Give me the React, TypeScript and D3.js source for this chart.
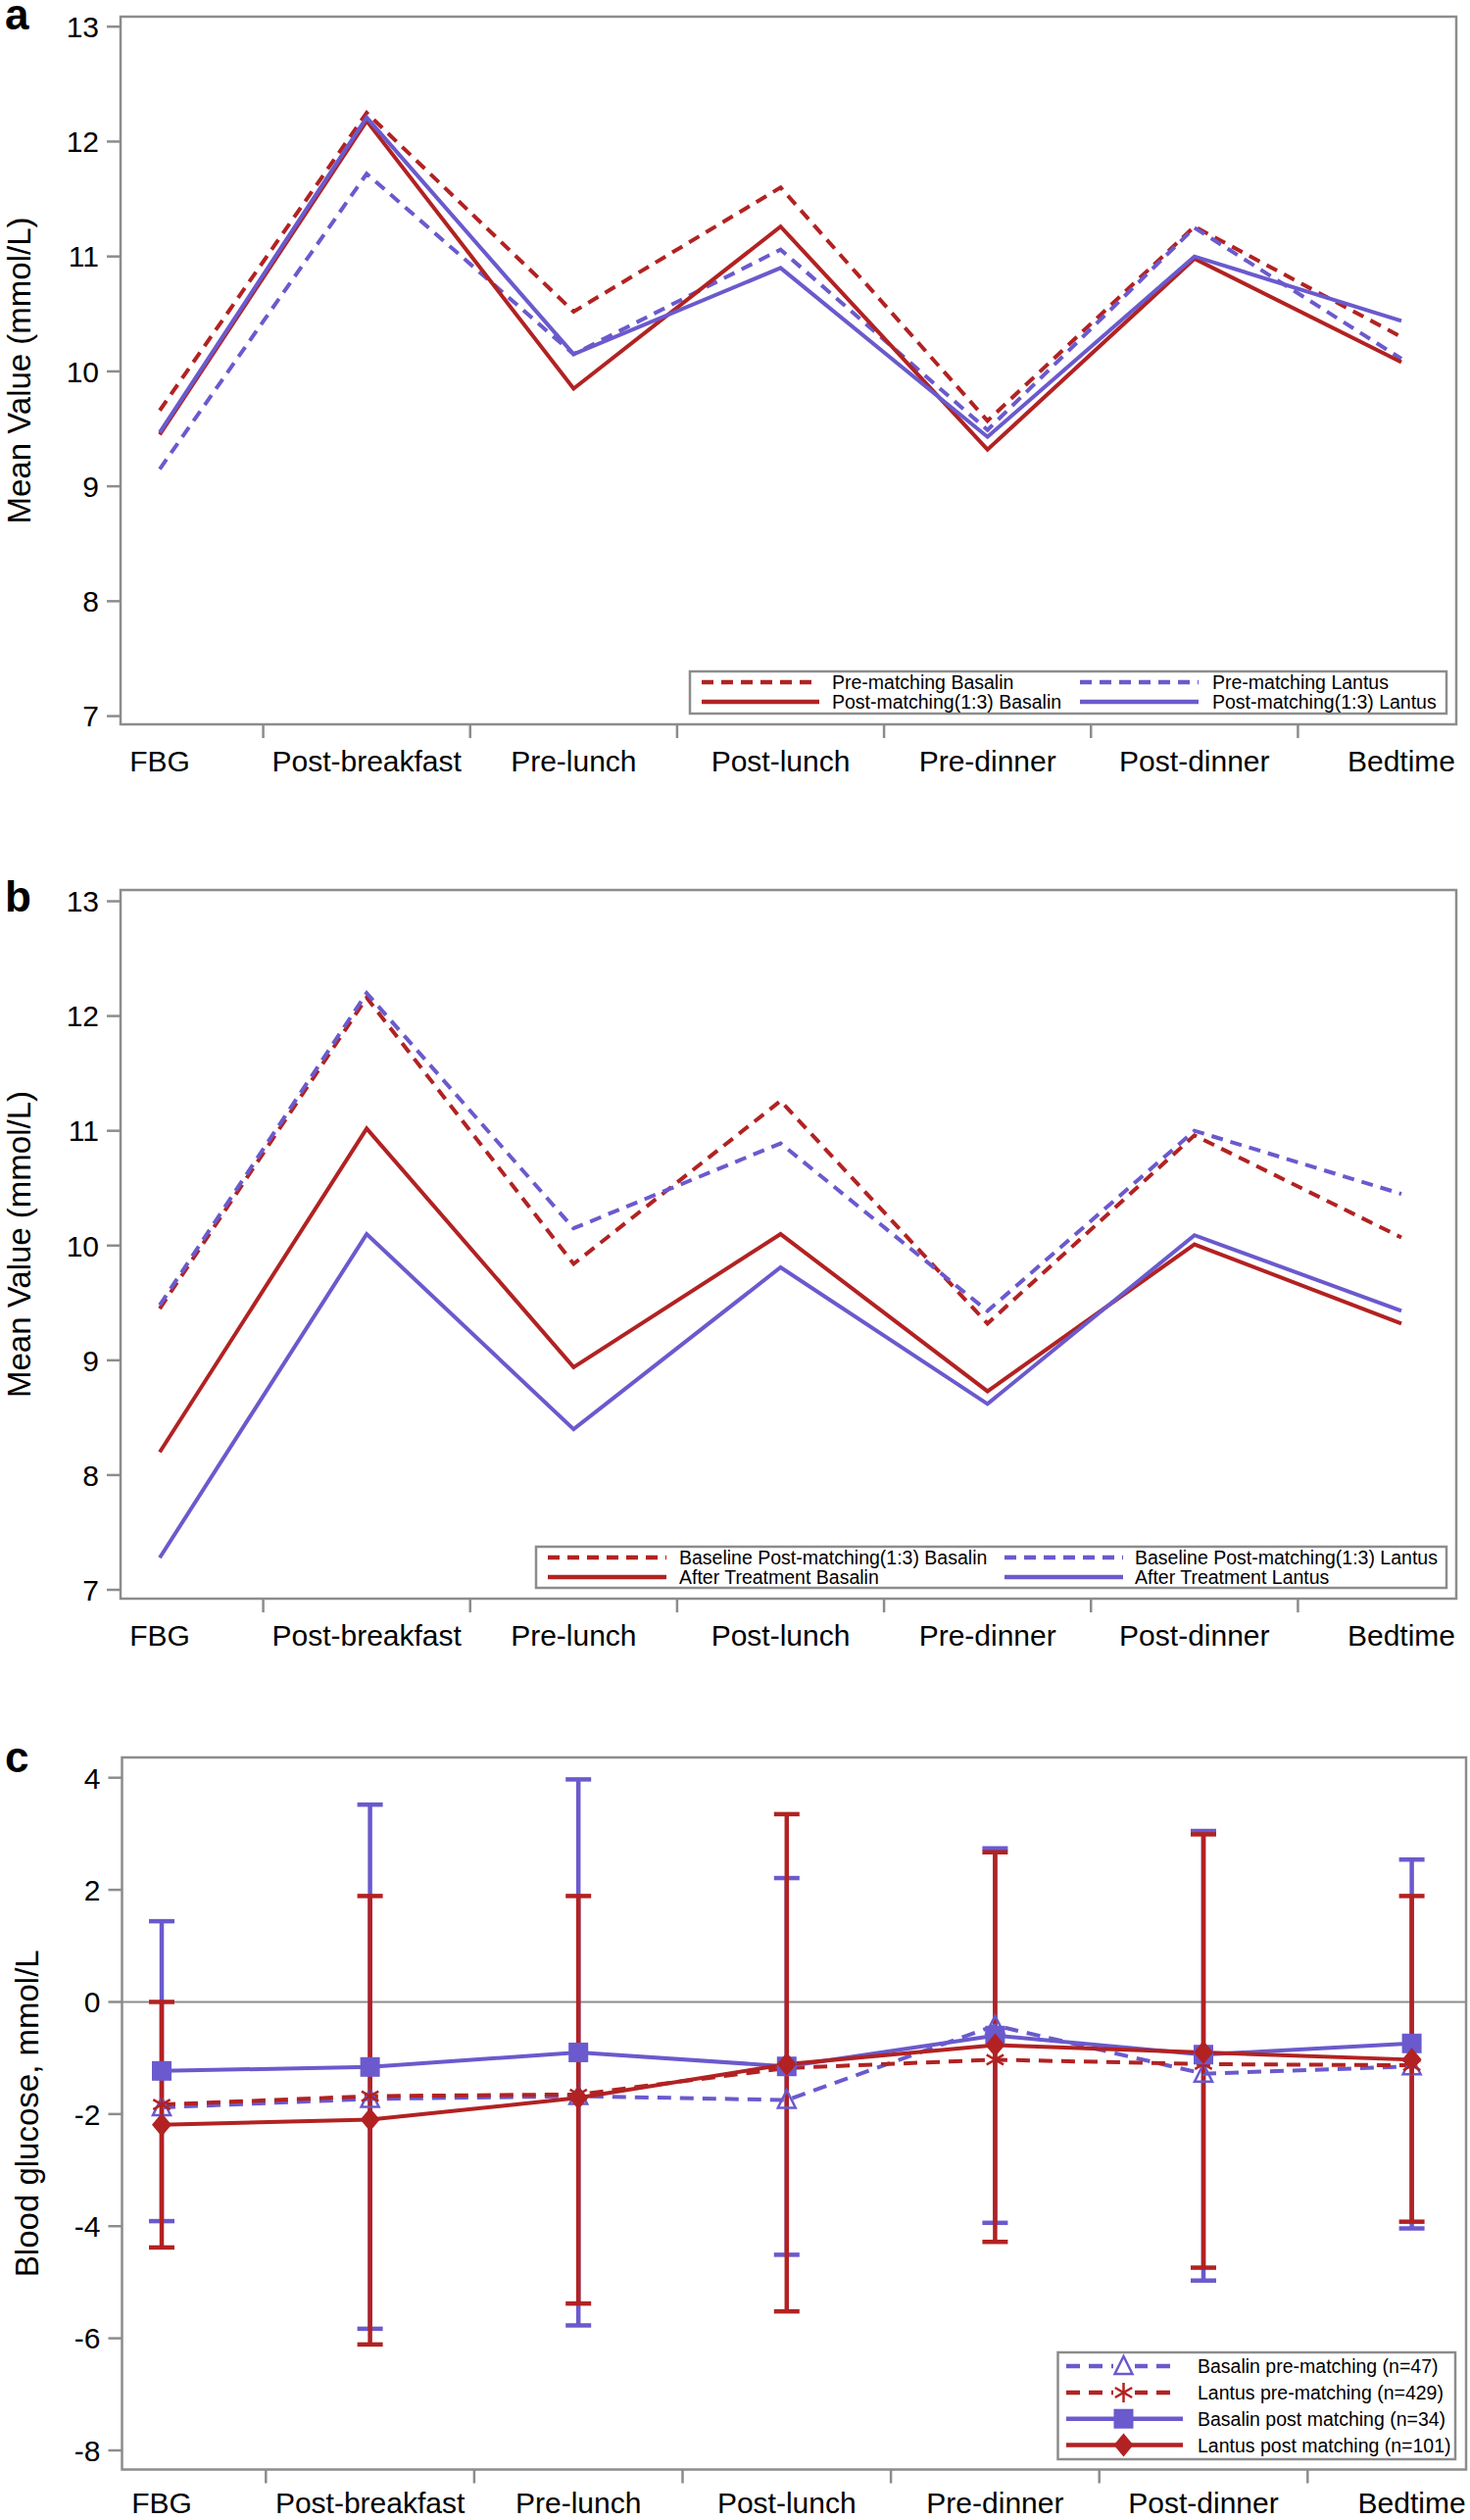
import React from 'react';
import * as d3 from 'd3';

const categories = ['FBG', 'Post-breakfast', 'Pre-lunch', 'Post-lunch', 'Pre-dinner', 'Post-dinner', 'Bedtime'];

// Panel a
const preBasalinA = [9.66, 12.25, 10.52, 11.6, 9.57, 11.26, 10.3];
const postBasalinA = [9.45, 12.18, 9.85, 11.26, 9.32, 10.98, 10.08];
const preLantusA = [9.15, 11.72, 10.15, 11.06, 9.49, 11.25, 10.11];
const postLantusA = [9.47, 12.21, 10.15, 10.9, 9.43, 11.0, 10.44];

// Panel b
const baseBasalinB = [9.45, 12.16, 9.84, 11.26, 9.32, 10.96, 10.07];
const baseLantusB = [9.48, 12.2, 10.15, 10.89, 9.43, 11.0, 10.45];
const afterBasalinB = [8.2, 11.02, 8.94, 10.1, 8.73, 10.01, 9.32];
const afterLantusB = [7.28, 10.1, 8.4, 9.81, 8.62, 10.09, 9.43];

// Panel c
const basalinPre = [-1.88, -1.73, -1.68, -1.75, -0.42, -1.28, -1.15];
const lantusPre = [-1.83, -1.68, -1.65, -1.18, -1.03, -1.11, -1.13];
const basalinPost = [-1.23, -1.16, -0.9, -1.15, -0.6, -0.94, -0.74];
const lantusPost = [-2.19, -2.1, -1.71, -1.11, -0.77, -0.9, -1.03];
const basalinPostUpper = [1.44, 3.52, 3.97, 2.21, 2.74, 3.05, 2.54];
const basalinPostLower = [-3.91, -5.83, -5.77, -4.51, -3.94, -4.97, -4.04];
const lantusPostUpper = [0.0, 1.89, 1.89, 3.35, 2.67, 2.99, 1.89];
const lantusPostLower = [-4.38, -6.11, -5.38, -5.52, -4.28, -4.74, -3.92];

const ticksAB = [7, 8, 9, 10, 11, 12, 13];
const ticksC = [-8, -6, -4, -2, 0, 2, 4];

const RED = '#B22222';
const BLUE = '#6A5ACD';
const GRAY = '#8c8c8c';
const FONT = '"Liberation Sans", Arial, sans-serif';

type Frame = { left: number; right: number; top: number; bottom: number; x0: number; x1: number; yTop: number; yBot: number; domain: [number, number]; labelGap: number };

const frameA: Frame = { left: 123, right: 1486, top: 17, bottom: 739, x0: 163, x1: 1430, yTop: 27.2, yBot: 730.6, domain: [7, 13], labelGap: 48 };
const frameB: Frame = { left: 123, right: 1486, top: 908, bottom: 1631, x0: 163, x1: 1430, yTop: 919.5, yBot: 1622, domain: [7, 13], labelGap: 48 };
const frameC: Frame = { left: 124.5, right: 1496, top: 1793, bottom: 2519.5, x0: 165, x1: 1440.6, yTop: 1813.7, yBot: 2500, domain: [-8, 4], labelGap: 44 };

function scales(f: Frame) {
  const x = d3.scaleLinear().domain([0, categories.length - 1]).range([f.x0, f.x1]);
  const y = d3.scaleLinear().domain(f.domain).range([f.yBot, f.yTop]);
  return { x, y };
}

function Axes({ f, ticks, title, titleX, label, labelY }: { f: Frame; ticks: number[]; title: string; titleX: number; label: string; labelY: number }) {
  const { x, y } = scales(f);
  const mids = d3.range(categories.length - 1).map((i) => (x(i) + x(i + 1)) / 2);
  return (
    <g>
      <rect x={f.left} y={f.top} width={f.right - f.left} height={f.bottom - f.top} fill="none" stroke={GRAY} strokeWidth={2.5} />
      {ticks.map((t) => (
        <g key={t}>
          <line x1={f.left - 14} x2={f.left} y1={y(t)} y2={y(t)} stroke={GRAY} strokeWidth={2.5} />
          <text x={f.left - 22} y={y(t)} dy="0.36em" textAnchor="end" fontSize={30} fontFamily={FONT} fill="#000">{t}</text>
        </g>
      ))}
      {mids.map((m, i) => (
        <line key={i} x1={m} x2={m} y1={f.bottom} y2={f.bottom + 14} stroke={GRAY} strokeWidth={2.5} />
      ))}
      {categories.map((c, i) => (
        <text key={c} x={x(i)} y={f.bottom + f.labelGap} textAnchor="middle" fontSize={30} fontFamily={FONT} fill="#000">{c}</text>
      ))}
      <text transform={`translate(${titleX},${(f.top + f.bottom) / 2}) rotate(-90)`} textAnchor="middle" dy="0.35em" fontSize={33} fontFamily={FONT} fill="#000">{title}</text>
      <text x={5} y={labelY} fontSize={44} fontWeight="bold" fontFamily={FONT} fill="#000">{label}</text>
    </g>
  );
}

function Series({ f, values, color, dash }: { f: Frame; values: number[]; color: string; dash?: string }) {
  const { x, y } = scales(f);
  const line = d3.line<number>().x((_, i) => x(i)).y((v) => y(v));
  return <path d={line(values) || ''} fill="none" stroke={color} strokeWidth={4} strokeDasharray={dash} strokeLinejoin="miter" />;
}

function LegendAB({ box, col1, col2, text1x, text2x, rowY, entries }: any) {
  return (
    <g>
      <rect x={box[0]} y={box[1]} width={box[2] - box[0]} height={box[3] - box[1]} fill="#fff" stroke={GRAY} strokeWidth={2.5} />
      {entries.map((e: any, i: number) => {
        const col = i < 2 ? col1 : col2;
        const tx = i < 2 ? text1x : text2x;
        const ry = rowY[i % 2];
        return (
          <g key={i}>
            <line x1={col[0]} x2={col[1]} y1={ry} y2={ry} stroke={e.color} strokeWidth={4.5} strokeDasharray={e.dash} />
            <text x={tx} y={ry} dy="0.36em" fontSize={19.5} fontFamily={FONT} fill="#000">{e.label}</text>
          </g>
        );
      })}
    </g>
  );
}

function Marker({ type, cx, cy }: { type: string; cx: number; cy: number }) {
  if (type === 'square') return <rect x={cx - 10} y={cy - 10} width={20} height={20} fill={BLUE} />;
  if (type === 'diamond') return <path d={`M${cx},${cy - 12}L${cx + 10},${cy}L${cx},${cy + 12}L${cx - 10},${cy}Z`} fill={RED} />;
  if (type === 'triangle')
    return <path d={`M${cx},${cy - 10}L${cx + 9},${cy + 8}L${cx - 9},${cy + 8}Z`} fill="none" stroke={BLUE} strokeWidth={2.5} />;
  const r = 10;
  return (
    <g stroke={RED} strokeWidth={2.5}>
      {[90, 30, 150].map((a) => {
        const rad = (a * Math.PI) / 180;
        return <line key={a} x1={cx - r * Math.cos(rad)} y1={cy - r * Math.sin(rad)} x2={cx + r * Math.cos(rad)} y2={cy + r * Math.sin(rad)} />;
      })}
    </g>
  );
}

function ErrorBars({ f, upper, lower, color }: { f: Frame; upper: number[]; lower: number[]; color: string }) {
  const { x, y } = scales(f);
  return (
    <g stroke={color} strokeWidth={4.5}>
      {upper.map((u, i) => (
        <g key={i}>
          <line x1={x(i)} x2={x(i)} y1={y(u)} y2={y(lower[i])} />
          <line x1={x(i) - 13} x2={x(i) + 13} y1={y(u)} y2={y(u)} />
          <line x1={x(i) - 13} x2={x(i) + 13} y1={y(lower[i])} y2={y(lower[i])} />
        </g>
      ))}
    </g>
  );
}

function Markers({ f, values, type }: { f: Frame; values: number[]; type: string }) {
  const { x, y } = scales(f);
  return <g>{values.map((v, i) => <Marker key={i} type={type} cx={x(i)} cy={y(v)} />)}</g>;
}

export default function App() {
  const { y: yC } = scales(frameC);
  const legendC = [
    { label: 'Basalin pre-matching (n=47)', color: BLUE, dash: '14 9', marker: 'triangle' },
    { label: 'Lantus pre-matching (n=429)', color: RED, dash: '14 9', marker: 'star' },
    { label: 'Basalin post matching (n=34)', color: BLUE, dash: undefined, marker: 'square' },
    { label: 'Lantus post matching (n=101)', color: RED, dash: undefined, marker: 'diamond' },
  ];
  const legendCRows = [2414, 2441, 2467.7, 2494.5];
  return (
    <svg width={1500} height={2571} style={{ position: 'absolute', left: 0, top: 0, background: '#fff' }}>
      {/* Panel a */}
      <Axes f={frameA} ticks={ticksAB} title="Mean Value (mmol/L)" titleX={19} label="a" labelY={30} />
      <Series f={frameA} values={preBasalinA} color={RED} dash="12 8" />
      <Series f={frameA} values={preLantusA} color={BLUE} dash="12 8" />
      <Series f={frameA} values={postBasalinA} color={RED} />
      <Series f={frameA} values={postLantusA} color={BLUE} />
      <LegendAB
        box={[704, 685, 1476, 728]}
        col1={[716, 836]}
        col2={[1102, 1223]}
        text1x={849}
        text2x={1237}
        rowY={[696, 716]}
        entries={[
          { label: 'Pre-matching Basalin', color: RED, dash: '12 8' },
          { label: 'Post-matching(1:3) Basalin', color: RED },
          { label: 'Pre-matching Lantus', color: BLUE, dash: '12 8' },
          { label: 'Post-matching(1:3) Lantus', color: BLUE },
        ]}
      />

      {/* Panel b */}
      <Axes f={frameB} ticks={ticksAB} title="Mean Value (mmol/L)" titleX={19} label="b" labelY={930} />
      <Series f={frameB} values={baseBasalinB} color={RED} dash="12 8" />
      <Series f={frameB} values={baseLantusB} color={BLUE} dash="12 8" />
      <Series f={frameB} values={afterBasalinB} color={RED} />
      <Series f={frameB} values={afterLantusB} color={BLUE} />
      <LegendAB
        box={[547, 1578, 1476, 1620]}
        col1={[559, 680]}
        col2={[1025, 1146]}
        text1x={693}
        text2x={1158}
        rowY={[1589, 1609]}
        entries={[
          { label: 'Baseline Post-matching(1:3) Basalin', color: RED, dash: '12 8' },
          { label: 'After Treatment Basalin', color: RED },
          { label: 'Baseline Post-matching(1:3) Lantus', color: BLUE, dash: '12 8' },
          { label: 'After Treatment Lantus', color: BLUE },
        ]}
      />

      {/* Panel c */}
      <line x1={frameC.left} x2={frameC.right} y1={yC(0)} y2={yC(0)} stroke={GRAY} strokeWidth={2} />
      <Axes f={frameC} ticks={ticksC} title="Blood glucose, mmol/L" titleX={27} label="c" labelY={1808} />
      <ErrorBars f={frameC} upper={basalinPostUpper} lower={basalinPostLower} color={BLUE} />
      <ErrorBars f={frameC} upper={lantusPostUpper} lower={lantusPostLower} color={RED} />
      <Series f={frameC} values={basalinPre} color={BLUE} dash="14 9" />
      <Series f={frameC} values={lantusPre} color={RED} dash="14 9" />
      <Series f={frameC} values={basalinPost} color={BLUE} />
      <Series f={frameC} values={lantusPost} color={RED} />
      <Markers f={frameC} values={basalinPre} type="triangle" />
      <Markers f={frameC} values={lantusPre} type="star" />
      <Markers f={frameC} values={basalinPost} type="square" />
      <Markers f={frameC} values={lantusPost} type="diamond" />
      <g>
        <rect x={1079.5} y={2400} width={1485 - 1079.5} height={2509 - 2400} fill="#fff" stroke={GRAY} strokeWidth={2.5} />
        {legendC.map((e, i) => (
          <g key={i}>
            <line x1={1088} x2={e.dash ? 1198 : 1207} y1={legendCRows[i]} y2={legendCRows[i]} stroke={e.color} strokeWidth={4.5} strokeDasharray={e.dash} />
            <rect x={1136} y={legendCRows[i] - 11} width={22} height={22} fill="#fff" opacity={e.dash ? 1 : 0} />
            <Marker type={e.marker} cx={1146.5} cy={legendCRows[i]} />
            <text x={1222} y={legendCRows[i]} dy="0.36em" fontSize={19.5} fontFamily={FONT} fill="#000">{e.label}</text>
          </g>
        ))}
      </g>
    </svg>
  );
}
